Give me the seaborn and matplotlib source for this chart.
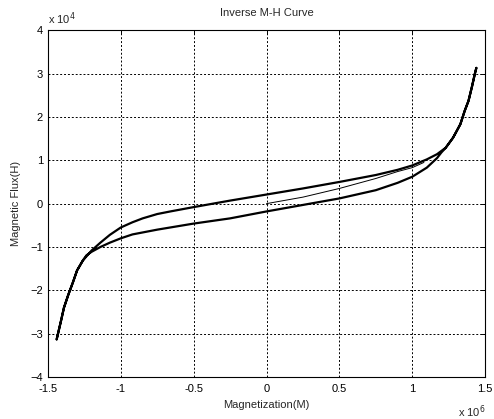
import matplotlib
matplotlib.use("Agg")
import matplotlib.pyplot as plt
import seaborn as sns
import pandas as pd

# values in units of 1e6 (M) and 1e4 (H)
upper_m = [1.44, 1.43, 1.41, 1.386, 1.36, 1.33, 1.28, 1.23, 1.17, 1.10, 1.00, 0.90, 0.75,
           0.50, 0.25, 0.0, -0.25, -0.50, -0.66, -0.75, -0.85, -0.92, -1.00, -1.075, -1.14,
           -1.20, -1.26, -1.30, -1.33, -1.36, -1.39, -1.41, -1.44]
upper_h = [3.13, 3.0, 2.7, 2.37, 2.14, 1.83, 1.52, 1.29, 1.14, 1.02, 0.88, 0.78, 0.66,
           0.50, 0.35, 0.21, 0.07, -0.08, -0.18, -0.24, -0.34, -0.43, -0.55, -0.72, -0.90,
           -1.08, -1.31, -1.54, -1.83, -2.1, -2.4, -2.7, -3.13]
lower_m = [-1.44, -1.41, -1.39, -1.36, -1.33, -1.30, -1.26, -1.235, -1.20, -1.14, -1.075,
           -1.00, -0.92, -0.75, -0.50, -0.25, 0.0, 0.25, 0.50, 0.75, 0.90, 1.00, 1.10, 1.17,
           1.20, 1.23, 1.28, 1.33, 1.36, 1.386, 1.41, 1.43, 1.44]
lower_h = [-3.13, -2.7, -2.4, -2.1, -1.83, -1.54, -1.31, -1.19, -1.11, -1.0, -0.90,
           -0.80, -0.71, -0.60, -0.46, -0.34, -0.18, -0.03, 0.12, 0.31, 0.48, 0.62, 0.83, 1.05,
           1.18, 1.29, 1.52, 1.83, 2.14, 2.37, 2.7, 3.0, 3.13]
init_m = [0.0, 0.25, 0.5, 0.75, 0.9, 1.0, 1.08]
init_h = [0.0, 0.15, 0.35, 0.58, 0.74, 0.83, 0.95]

loop = pd.DataFrame({"M": upper_m + lower_m, "H": upper_h + lower_h})
init = pd.DataFrame({"M": init_m, "H": init_h})

sns.set_style("white")
plt.rcParams['font.family'] = ['Liberation Sans', 'DejaVu Sans']

fig = plt.figure(figsize=(4.94, 4.19), dpi=100)
ax = fig.add_axes([0.097, 0.100, 0.885, 0.828])

sns.lineplot(data=loop, x="M", y="H", sort=False, estimator=None, color="black", linewidth=1.6, ax=ax)
sns.lineplot(data=init, x="M", y="H", sort=False, estimator=None, color="black", linewidth=0.7, ax=ax)

ax.set_xlim(-1.5, 1.5)
ax.set_ylim(-4, 4)
ax.set_xticks([-1.5, -1, -0.5, 0, 0.5, 1, 1.5])
ax.set_xticklabels(["-1.5", "-1", "-0.5", "0", "0.5", "1", "1.5"])
ax.set_yticks(range(-4, 5))
ax.grid(True, color="black", linestyle=(0, (2, 2)), linewidth=0.7)
ax.tick_params(direction="in", top=True, right=True, length=3, width=0.7, labelsize=8, colors="black")
ax.tick_params(axis="x", pad=5)
for s in ax.spines.values():
    s.set_color("black")
    s.set_linewidth(0.8)

ax.set_title("Inverse M-H Curve", fontsize=8, pad=10)
ax.set_xlabel("Magnetization(M)", fontsize=8, labelpad=4)
ax.set_ylabel("Magnetic Flux(H)", fontsize=8, labelpad=7)
ax.text(0.0, 1.01, r"x 10$^4$", transform=ax.transAxes, fontsize=8, ha="left", va="bottom")
ax.text(1.0, -0.075, r"x 10$^6$", transform=ax.transAxes, fontsize=8, ha="right", va="top")

fig.savefig("out.png", dpi=100)
